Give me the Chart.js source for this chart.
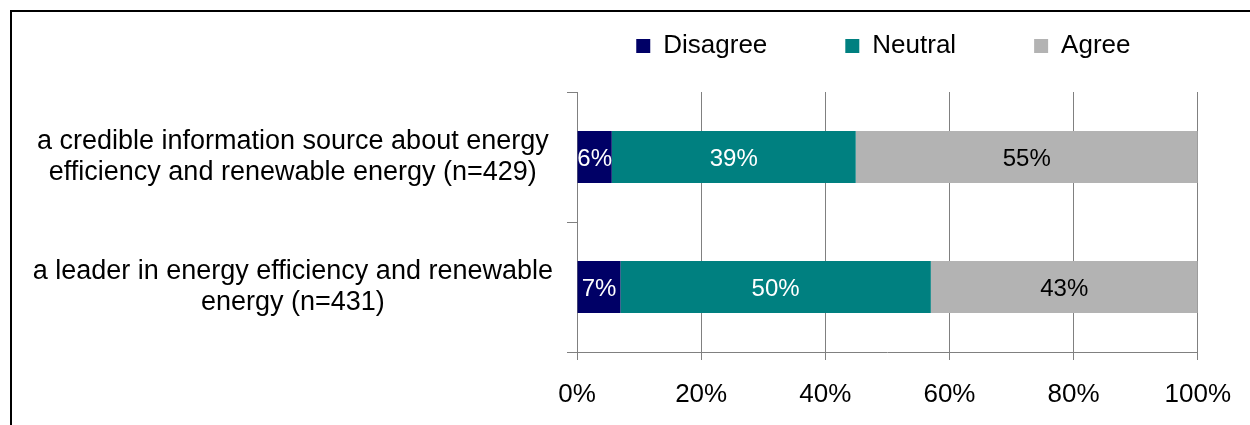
<!DOCTYPE html>
<html>
<head>
<meta charset="utf-8">
<script src="https://cdn.jsdelivr.net/npm/chart.js@4"></script>
<style>
    body { margin: 0; background: #fff; }
    #wrap { position: relative; width: 1250px; height: 425px; }
    #frame {
        position: absolute; left: 10px; top: 10px; right: 0; bottom: 0;
        border-top: 2px solid #000; border-left: 2px solid #000;
        pointer-events: none;
    }
</style>
</head>
<body>
<div id="wrap">
    <canvas id="surveyChart" width="1250" height="425"></canvas>
    <div id="frame"></div>
</div>
<script>
const categories = [
    ["a credible information source about energy", "efficiency and renewable energy (n=429)"],
    ["a leader in energy efficiency and renewable", "energy (n=431)"]
];
const disagree = [5.6, 7];
const neutral = [39.3, 50];
const agree = [55.1, 43];
const xTicks = [0, 20, 40, 60, 80, 100];

const FONT = "'Liberation Sans', Arial, sans-serif";
const GRID = "#808080";

// value labels in the middle of each bar segment
const barLabels = {
    id: "barLabels",
    afterDatasetsDraw(chart) {
        const ctx = chart.ctx;
        ctx.save();
        ctx.font = "24px " + FONT;
        ctx.textAlign = "center";
        ctx.textBaseline = "middle";
        chart.data.datasets.forEach((ds, i) => {
            chart.getDatasetMeta(i).data.forEach((bar, j) => {
                const p = bar.getCenterPoint();
                ctx.fillStyle = ds.labelColor;
                ctx.fillText(Math.round(ds.data[j]) + "%", p.x, p.y + 2);
            });
        });
        ctx.restore();
    }
};

// keep the legend short, near the top and roughly centred over the plot,
// even with the wide spacing between items
const legendPlace = {
    id: "legendPlace",
    afterInit(chart) {
        const legend = chart.legend;
        const fit = legend.fit;
        legend.fit = function () {
            fit.call(this);
            this.height = 74;
        };
    },
    afterLayout(chart) {
        const legend = chart.legend;
        legend.top = 33 - legend.options.labels.padding;
        legend.left = chart.chartArea.left - 34;
        legend.right = chart.chartArea.right + 26;
    }
};

new Chart(document.getElementById("surveyChart"), {
    type: "bar",
    data: {
        labels: categories,
        datasets: [
            { label: "Disagree", data: disagree, backgroundColor: "#000066", labelColor: "#ffffff" },
            { label: "Neutral", data: neutral, backgroundColor: "#008080", labelColor: "#ffffff" },
            { label: "Agree", data: agree, backgroundColor: "#b3b3b3", labelColor: "#000000" }
        ]
    },
    options: {
        indexAxis: "y",
        responsive: false,
        animation: false,
        barPercentage: 0.4,
        categoryPercentage: 1,
        layout: {
            padding: { top: 18, right: 52, bottom: 0, left: 0 }
        },
        plugins: {
            legend: {
                display: true,
                position: "top",
                labels: {
                    boxWidth: 14,
                    boxHeight: 14,
                    padding: 78,
                    color: "#000",
                    font: { family: FONT, size: 26 }
                }
            },
            tooltip: { enabled: false }
        },
        scales: {
            x: {
                stacked: true,
                min: 0,
                max: 100,
                afterBuildTicks: (scale) => {
                    scale.ticks = xTicks.map(v => ({ value: v }));
                },
                afterFit: (scale) => { scale.height = 73; },
                ticks: {
                    padding: 19,
                    color: "#000",
                    font: { family: FONT, size: 26 },
                    callback: (v) => v + "%"
                },
                grid: {
                    color: GRID,
                    lineWidth: 1,
                    tickLength: 8
                },
                border: { color: GRID, width: 1 }
            },
            y: {
                stacked: true,
                afterFit: (scale) => { scale.width = 577; },
                ticks: {
                    autoSkip: false,
                    crossAlign: "center",
                    padding: 14,
                    color: "#000",
                    font: { family: FONT, size: 27, lineHeight: 1.15 }
                },
                grid: {
                    offset: true,
                    drawOnChartArea: false,
                    color: GRID,
                    tickLength: 10
                },
                border: { color: GRID, width: 1 }
            }
        }
    },
    plugins: [barLabels, legendPlace]
});
</script>
</body>
</html>
